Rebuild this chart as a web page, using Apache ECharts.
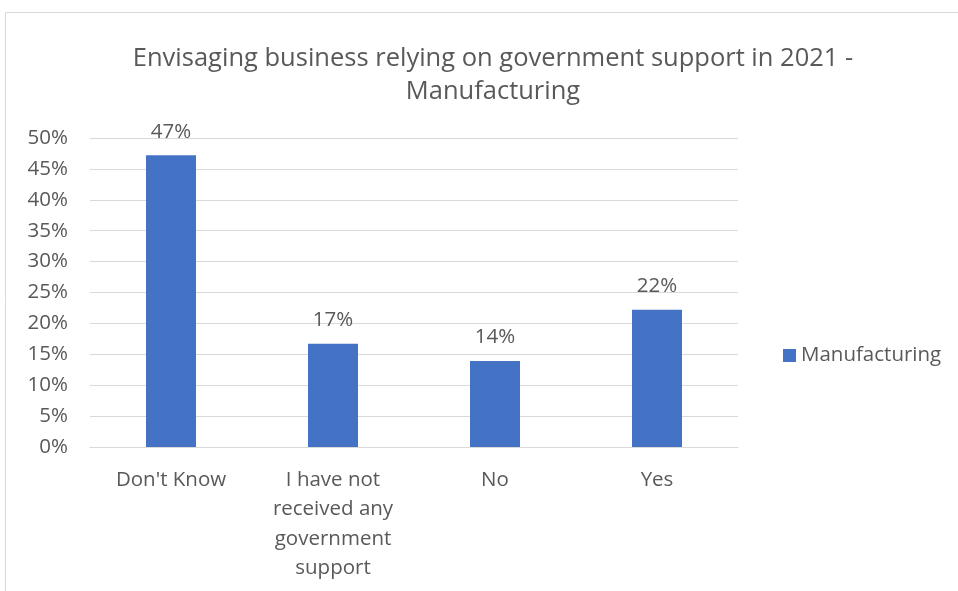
<!DOCTYPE html>
<html>
<head>
<meta charset="utf-8">
<script src="https://cdn.jsdelivr.net/npm/echarts@6/dist/echarts.min.js"></script>
<style>
  html, body { margin: 0; padding: 0; background: #fff; }
  #chart { width: 958px; height: 591px; }
</style>
</head>
<body>
<div id="chart"></div>
<script>
// Survey answers and share of respondents (fractions)
const categories = ["Don't Know", "I have not\nreceived any\ngovernment\nsupport", "No", "Yes"];
const manufacturing = [0.472, 0.167, 0.139, 0.222];
const yTicks = { min: 0, max: 0.5, step: 0.05 };
const seriesName = 'Manufacturing';
const titleText = 'Envisaging business relying on government support in 2021 -\nManufacturing';

const textColor = '#595959';
const font = '"Open Sans", "Liberation Sans", sans-serif';
const pct = v => Math.round(v * 100) + '%';

const chart = echarts.init(document.getElementById('chart'), null, { renderer: 'canvas' });
chart.setOption({
  backgroundColor: '#fff',
  animation: false,
  graphic: [{
    type: 'rect',
    shape: { x: 5.5, y: 12.5, width: 1000, height: 1000 },
    style: { fill: 'none', stroke: '#d9d9d9', lineWidth: 1 },
    silent: true
  }],
  title: {
    text: titleText,
    left: 488,
    top: 37,
    textAlign: 'center',
    textStyle: {
      color: textColor,
      fontFamily: font,
      fontWeight: 'normal',
      fontSize: 25.5,
      lineHeight: 33
    }
  },
  legend: {
    data: [seriesName],
    left: 778,
    top: 340,
    icon: 'rect',
    itemWidth: 13,
    itemHeight: 13,
    itemGap: 7,
    textStyle: { color: textColor, fontFamily: font, fontSize: 20.5 }
  },
  grid: { left: 90, right: 220, top: 138, bottom: 144 },
  xAxis: {
    type: 'category',
    data: categories,
    axisLine: { lineStyle: { color: '#d9d9d9', width: 1 } },
    axisTick: { show: false },
    axisLabel: {
      color: textColor,
      fontFamily: font,
      fontSize: 20.5,
      lineHeight: 29.5,
      margin: 18,
      interval: 0
    }
  },
  yAxis: {
    type: 'value',
    min: yTicks.min,
    max: yTicks.max,
    interval: yTicks.step,
    axisLine: { show: false },
    axisTick: { show: false },
    splitLine: { lineStyle: { color: '#d9d9d9', width: 1 } },
    axisLabel: {
      color: textColor,
      fontFamily: font,
      fontSize: 20.5,
      margin: 22,
      formatter: v => pct(v)
    }
  },
  series: [{
    name: seriesName,
    type: 'bar',
    data: manufacturing,
    barWidth: 50,
    itemStyle: { color: '#4472c4' },
    label: {
      show: true,
      position: 'top',
      distance: 13,
      color: textColor,
      fontFamily: font,
      fontSize: 20.5,
      formatter: p => pct(p.value)
    }
  }]
});
</script>
</body>
</html>
